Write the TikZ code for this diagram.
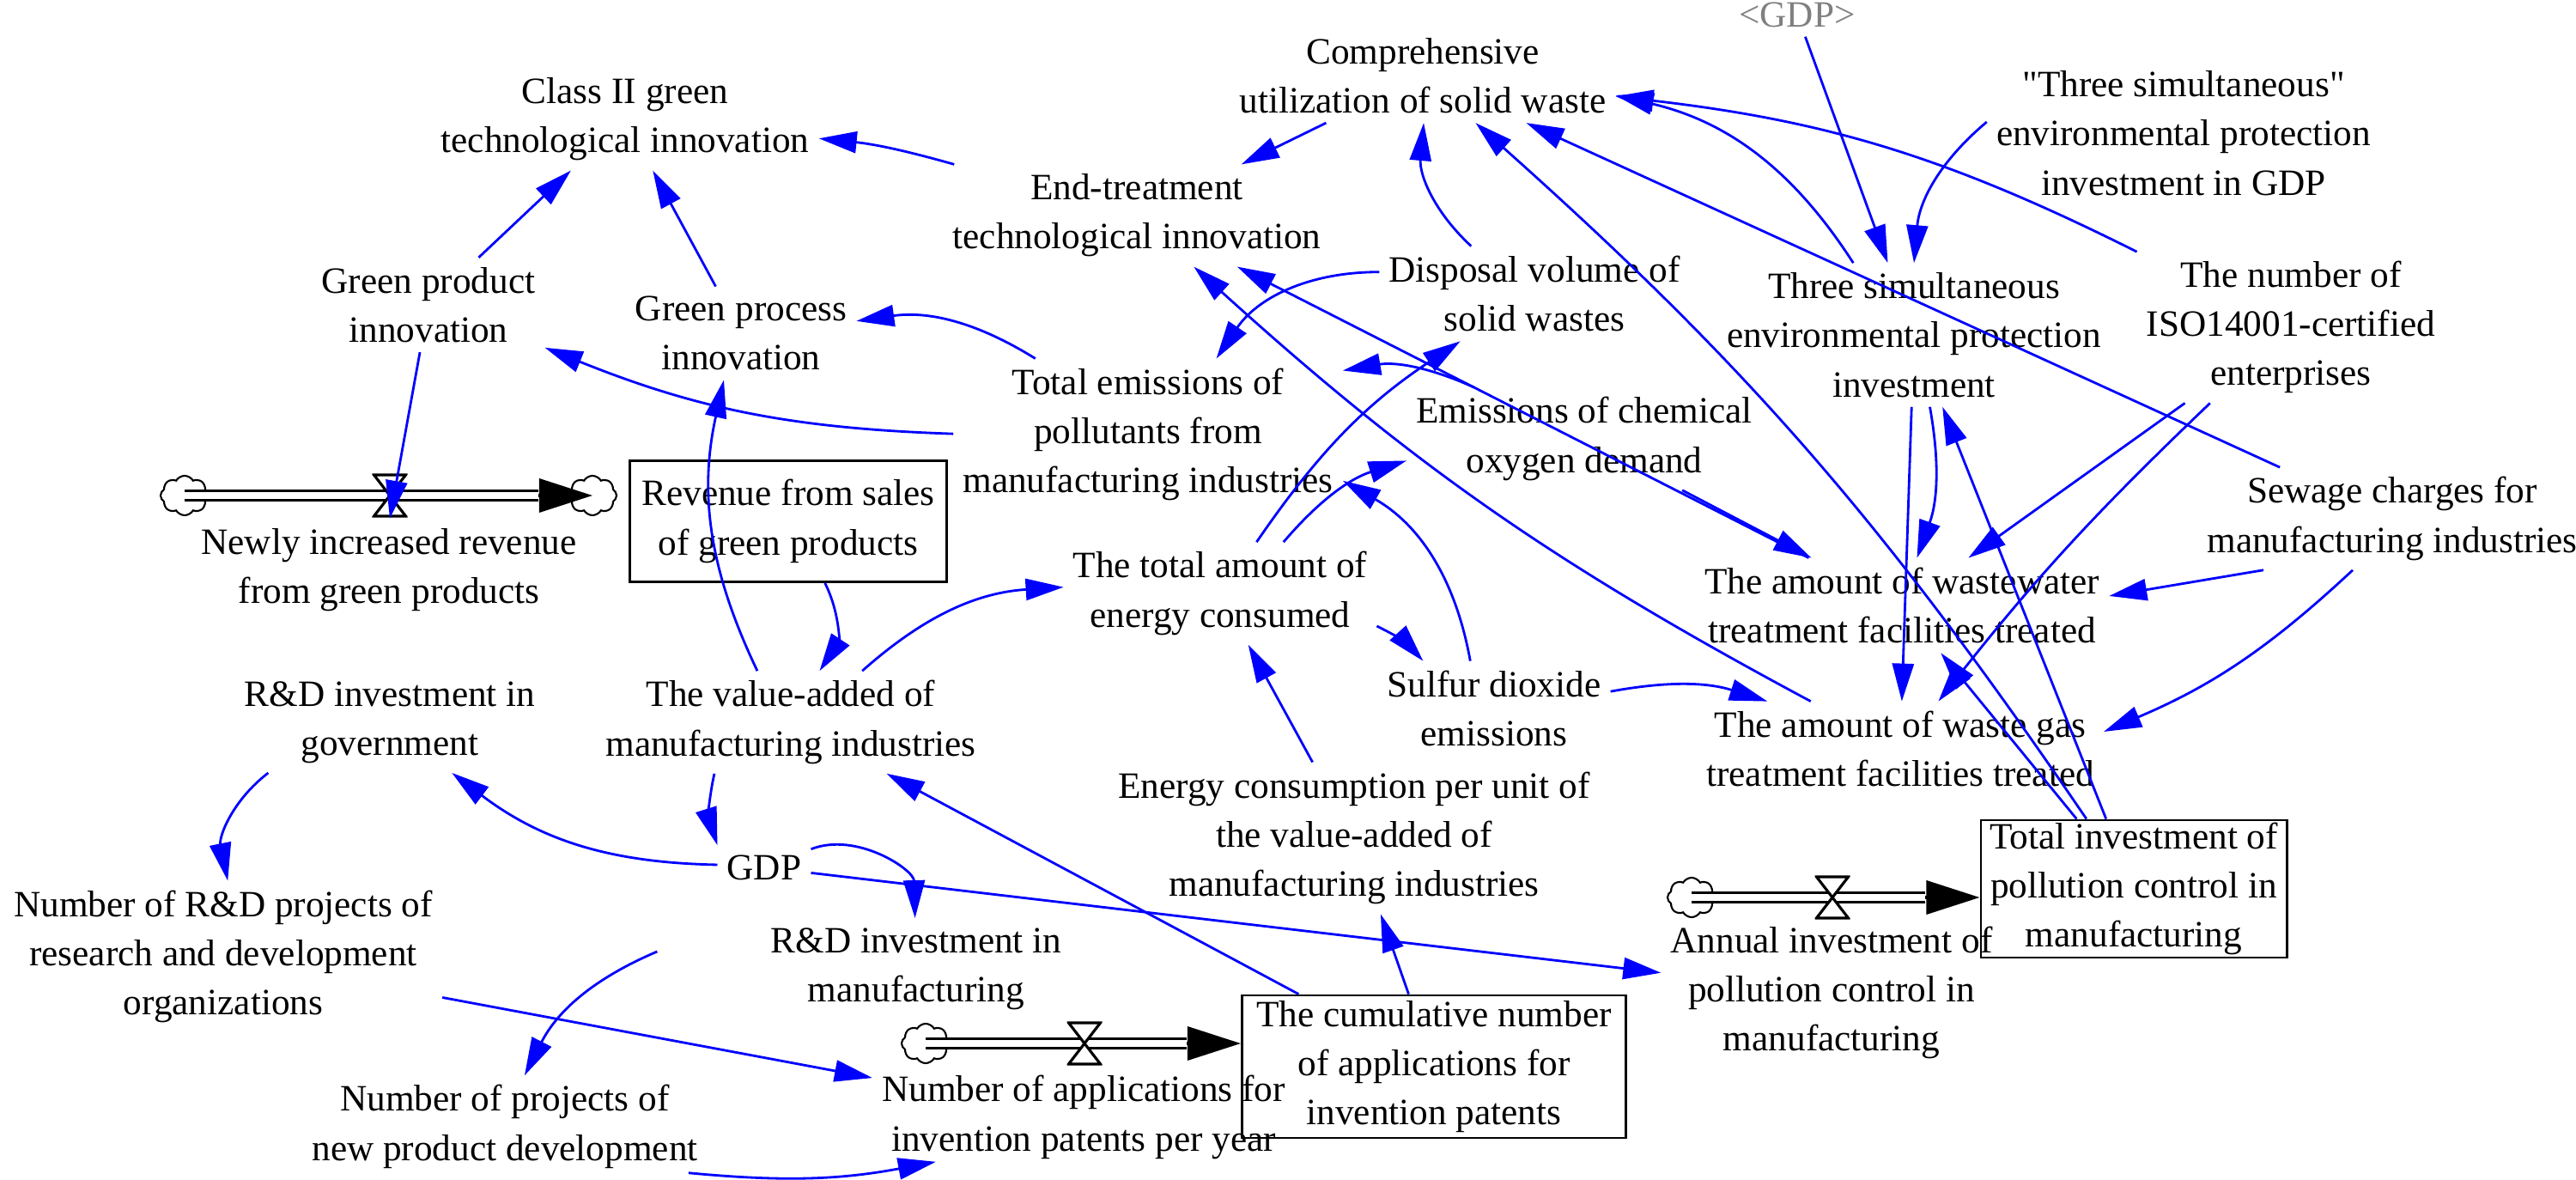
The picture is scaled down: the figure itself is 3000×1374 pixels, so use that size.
\documentclass[tikz,border=0pt]{standalone}
\usepackage{fontspec}
\setmainfont{Liberation Serif}
\usetikzlibrary{arrows.meta,shapes.symbols}

\begin{document}
\begin{tikzpicture}[x=0.01cm,y=0.01cm,
  font=\fontsize{12.3}{16.3}\selectfont,
  var/.style={align=center,inner sep=3pt},
  shadow/.style={var,text=gray},
  stock/.style={draw,line width=0.8pt,align=center,inner sep=0pt},
  link/.style={blue,line width=0.8pt,-{Triangle[length=4.4mm,width=2.5mm]}},
  pipe/.style={double,double distance=2pt,line width=1.1pt,shorten >=6.3mm},
  pipehead/.style={line width=1pt,-{Triangle[length=6.2mm,width=3.9mm]}},
  pool/.style={cloud,draw,cloud puffs=8,cloud puff arc=120,cloud ignores aspect,
    minimum width=0.56cm,minimum height=0.46cm,inner sep=0pt,line width=0.6pt},
  valve/.style={minimum width=0.41cm,minimum height=0.52cm,inner sep=0pt,
    path picture={\draw[line width=0.9pt,fill=white]
      ([shift={(0.02cm,-0.02cm)}]path picture bounding box.north west) --
      ([shift={(-0.02cm,-0.02cm)}]path picture bounding box.north east) --
      ([shift={(0.02cm,0.02cm)}]path picture bounding box.south west) --
      ([shift={(-0.02cm,0.02cm)}]path picture bounding box.south east) -- cycle;}}]
\useasboundingbox (0,0) rectangle (3000,-1374);

% variables
\node[var] (cls2) at (728,-139) {Class II green\\technological innovation};
\node[var] (comp) at (1657,-88) {Comprehensive\\utilization of solid waste};
\node[var] (endt) at (1324,-251) {End-treatment\\technological innovation};
\node[shadow] (gdpg) at (2093,-17) {\textless GDP\textgreater};
\node[var] (tsgdp) at (2543,-155) {\textquotedbl Three simultaneous\textquotedbl\\environmental protection\\investment in GDP};
\node[var] (gprod) at (499,-355) {Green product\\innovation};
\node[var] (gproc) at (863,-388) {Green process\\innovation};
\node[var] (disp) at (1787,-342) {Disposal volume of\\solid wastes};
\node[var] (tsinv) at (2229,-390) {Three simultaneous\\environmental protection\\investment};
\node[var] (iso) at (2668,-381) {The number of\\ISO14001-certified\\enterprises};
\node[var] (emis) at (1337,-506) {Total emissions of\\pollutants from\\manufacturing industries};
\node[var] (cod) at (1845,-511) {Emissions of chemical\\oxygen demand};
\node[var] (sewage) at (2786,-604) {Sewage charges for\\manufacturing industries};
\node[var] (newrev) at (453,-664) {Newly increased revenue\\from green products};
\node[var] (energy) at (1421,-691) {The total amount of\\energy consumed};
\node[var] (ww) at (2215,-705) {The amount of wastewater\\treatment facilities treated};
\node[var] (so2) at (1740,-825) {Sulfur dioxide\\emissions};
\node[var] (wg) at (2213,-872) {The amount of waste gas\\treatment facilities treated};
\node[var] (rdgov) at (454,-841) {R\&D investment in\\government};
\node[var] (va) at (921,-841) {The value-added of\\manufacturing industries};
\node[var] (ecu) at (1577,-976) {Energy consumption per unit of\\the value-added of\\manufacturing industries};
\node[var] (gdp) at (890,-1010) {GDP};
\node[var] (rdman) at (1067,-1128) {R\&D investment in\\manufacturing};
\node[var] (rdproj) at (260,-1114) {Number of R\&D projects of\\research and development\\organizations};
\node[var] (npd) at (588,-1312) {Number of projects of\\new product development};
\node[var] (napp) at (1262,-1301) {Number of applications for\\invention patents per year};
\node[var] (ainv) at (2133,-1156) {Annual investment of\\pollution control in\\manufacturing};

% stocks
\node[stock,minimum width=3.69cm,minimum height=1.41cm] (rev) at (918,-607) {Revenue from sales\\of green products};
\node[stock,minimum width=4.47cm,minimum height=1.66cm] (cum) at (1670,-1242) {The cumulative number\\of applications for\\invention patents};
\node[stock,minimum width=3.56cm,minimum height=1.6cm] (tinv) at (2485,-1035) {Total investment of\\pollution control in\\manufacturing};

% flows
\node[pool] (c1) at (215,-577) {};
\node[pool] (c2) at (690,-577) {};
\node[pool] (c3) at (1078,-1215) {};
\node[pool] (c4) at (1970,-1045) {};
\draw[pipehead] (c1.center) -- (c2.center);
\draw[pipe] (c1.center) -- (c2.center);
\draw[pipehead] (c3.center) -- (c3.center -| cum.west);
\draw[pipe] (c3.center) -- (c3.center -| cum.west);
\draw[pipehead] (c4.center) -- (c4.center -| tinv.west);
\draw[pipe] (c4.center) -- (c4.center -| tinv.west);
\node[valve] (v1) at (454,-577) {};
\node[valve] (v2) at (1263,-1215) {};
\node[valve] (v3) at (2134,-1045) {};

% causal links
\draw[link] (gprod) -- (cls2);
\draw[link] (gproc) -- (cls2);
\draw[link] (endt) to[bend right=5] (cls2);
\draw[link] (comp) -- (endt);
\draw[link] (disp) to[bend left=26] (comp);
\draw[link] (tsinv) to[bend right=22] (comp);
\draw[link] (iso) to[bend right=10] (comp);
\draw[link] (sewage) -- (comp);
\draw[link] (tinv) to[bend right=7] (comp);
\draw[link] (gdpg) -- (tsinv);
\draw[link] ([yshift=0.13cm]tsgdp.west) to[out=220,in=85] (tsinv.north);
\draw[link] (emis) to[bend right=20] (gproc);
\draw[link] (emis) to[bend left=10] (gprod);
\draw[link] (disp) to[bend right=28] (emis);
\draw[link] (energy) to[bend left=11] (disp);
\draw[link] (energy) to[bend left=16] (cod);
\draw[link] (so2) to[bend right=25] (emis);
\draw[link] ([xshift=0.79cm]cod.north west) to[bend right=17] ([yshift=-0.14cm]emis.north east);
\draw[link] (wg) to[bend left=7] (endt);
\draw[link] (ww) -- (endt);
\draw[link] (cod) -- (ww);
\draw[link] (tsinv) to[bend left=15] (ww);
\draw[link] (tsinv) -- (wg);
\draw[link] (tinv) -- (tsinv);
\draw[link] (tinv) -- (ww);
\draw[link] (iso) -- (ww);
\draw[link] (iso) to[bend right=4] (wg);
\draw[link] ([xshift=-1.5cm]sewage.south) -- ([yshift=0.11cm]ww.east);
\draw[link] ([xshift=-0.46cm]sewage.south) to[bend left=10] ([yshift=0.2cm]wg.east);
\draw[link] (so2) to[bend left=14] (wg);
\draw[link] (energy) to[bend left=11] (so2);
\draw[link] (va) to[bend left=19] (energy);
\draw[link] (ecu) -- (energy);
\draw[link] ([xshift=-0.39cm]va.north) to[bend left=19] ([xshift=-0.2cm]gproc.south);
\draw[link] (rev) to[bend left=30] (va);
\draw[link] (gprod) -- (v1.south);
\draw[link] ([xshift=-0.89cm]va.south) to[bend right=15] (gdp.north west);
\draw[link] (gdp) to[bend left=18] (rdgov);
\draw[link] (rdgov) to[bend right=32] (rdproj);
\draw[link] (gdp) to[bend left=55] (rdman);
\draw[link] (gdp) -- (ainv);
\draw[link] (cum) -- (va);
\draw[link] (cum) -- (ecu);
\draw[link] (rdproj) -- (napp);
\draw[link] ([shift={(-121,20)}]rdman.west) to[bend right=20] (npd);
\draw[link] ([shift={(-22,6)}]npd.south east) to[bend right=8] ([shift={(74,8)}]napp.south west);
\end{tikzpicture}
\end{document}
